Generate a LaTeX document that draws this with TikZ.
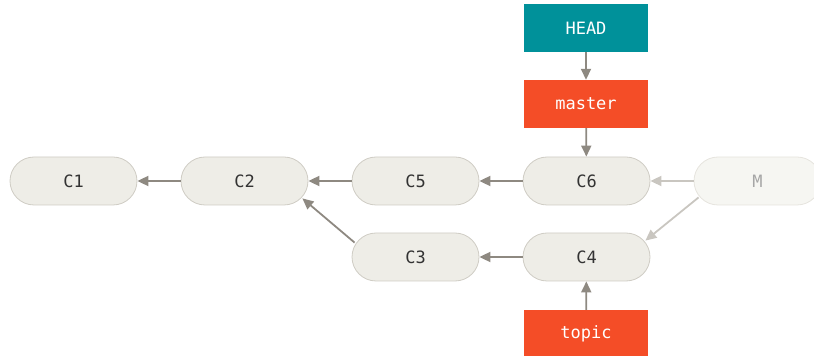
\documentclass[tikz,border=0pt]{standalone}
\usepackage{fontspec}
\setmonofont{DejaVu Sans Mono}
\usetikzlibrary{arrows.meta,calc}
\definecolor{headc}{HTML}{00919A}
\definecolor{branchc}{HTML}{F44D27}
\definecolor{commitfill}{HTML}{EEEDE7}
\definecolor{commitdraw}{HTML}{CFCCC4}
\definecolor{mfill}{HTML}{F6F6F2}
\definecolor{mdraw}{HTML}{E6E4DE}
\definecolor{arrowc}{HTML}{8E8981}
\definecolor{lightarrow}{HTML}{C9C6C0}
\definecolor{textc}{HTML}{333333}
\begin{document}
\begin{tikzpicture}[x=1pt,y=1pt,
  every node/.style={font=\ttfamily\fontsize{17}{20}\selectfont},
  commit/.style={draw=commitdraw, line width=0.8pt, fill=commitfill, text=textc, minimum width=127pt, minimum height=48pt, rounded corners=24pt, inner sep=0pt},
  mcommit/.style={commit, draw=mdraw, fill=mfill, text=black!35},
  ref/.style={fill=#1, text=white, minimum width=124pt, minimum height=48pt, inner sep=0pt},
  conn/.style={draw=arrowc, line width=1.8pt, -{Triangle[length=11pt,width=10pt]}},
  lconn/.style={conn, draw=lightarrow}
]
\useasboundingbox (0,0) rectangle (814,356);
\clip (0,0) rectangle (814,356);
\node[commit] (C1) at (73.5,175) {C1};
\node[commit] (C2) at (244.5,175) {C2};
\node[commit] (C5) at (415.5,175) {C5};
\node[commit] (C6) at (586.5,175) {C6};
\node[mcommit] (M) at (757.5,175) {M};
\node[commit] (C3) at (415.5,99) {C3};
\node[commit] (C4) at (586.5,99) {C4};
\node[ref=headc] (HEAD) at (586,328) {HEAD};
\node[ref=branchc] (master) at (586,252) {master};
\node[ref=branchc] (topic) at (586,22) {topic};
\draw[conn] (HEAD) -- (master);
\draw[conn] (master) -- (C6);
\draw[conn] (topic) -- (C4);
\draw[conn] (C2) -- (C1);
\draw[conn] (C5) -- (C2);
\draw[conn] (C6) -- (C5);
\draw[conn] (C4) -- (C3);
\draw[conn] ($(C3.north west)+(3,-10)$) -- ($(C2.south east)+(-6,7)$);
\draw[lconn] (M) -- (C6);
\draw[lconn] ($(M.south west)+(5,8)$) -- ($(C4.north east)+(-5,-8)$);
\end{tikzpicture}
\end{document}
